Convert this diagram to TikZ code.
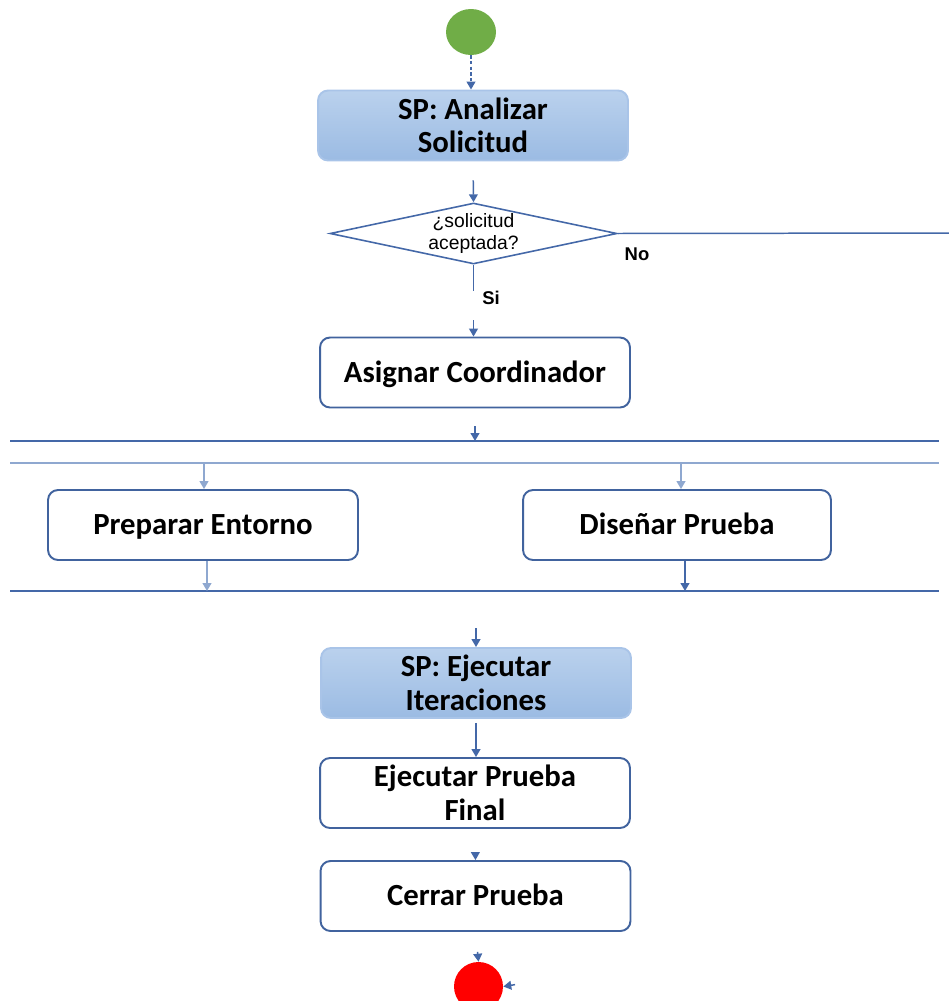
\documentclass[tikz,border=0pt]{standalone}
\usepackage{fontspec}
\setmainfont{Carlito}
\newfontfamily\arialfont{Liberation Sans}
\usetikzlibrary{arrows.meta,shapes.geometric}
\definecolor{lineblue}{HTML}{4468A8}
\definecolor{boxborder}{HTML}{41639E}
\definecolor{fillTop}{HTML}{BAD1ED}
\definecolor{fillBot}{HTML}{9BBBE3}
\definecolor{spborder}{HTML}{A9C4E8}
\definecolor{barlight}{HTML}{8FA8D0}
\definecolor{startgreen}{HTML}{70AD47}
\tikzset{
  actbox/.style={draw=boxborder, line width=1.1pt, rounded corners=0.2cm, fill=white,
    minimum width=6.2cm, minimum height=1.4cm, align=center, inner sep=2pt,
    font=\fontsize{17.5}{19}\selectfont\bfseries},
  onebox/.style={actbox, text height=11pt, text depth=0pt},
  spbox/.style={actbox, draw=spborder, top color=fillTop, bottom color=fillBot},
  conn/.style={draw=lineblue, line width=0.85pt, -{Triangle[width=5pt,length=4.5pt]}},
  barline/.style={draw=lineblue, line width=1.1pt},
  lbl/.style={font=\arialfont\fontsize{10.5}{12}\selectfont\bfseries},
}
\begin{document}
\begin{tikzpicture}[x=0.02cm,y=-0.02cm]
\useasboundingbox (0,0) rectangle (949,1001);

% start / end
\node[ellipse, fill=startgreen, minimum width=1.0cm, minimum height=0.92cm, inner sep=0] (start) at (471,32) {};
\node[circle, fill=red, minimum size=0.98cm, inner sep=0] (end) at (478.5,986.5) {};

% activities
\node[spbox] (ana) at (473,125.5) {SP: Analizar\\Solicitud};
\node[diamond, draw=lineblue, line width=0.9pt, aspect=4.7, minimum width=5.74cm, minimum height=1.22cm,
      inner sep=0, align=center, font=\arialfont\fontsize{11}{13}\selectfont] (dec) at (473.5,233.5) {¿solicitud\\aceptada?};
\node[onebox] (asg) at (475,372.5) {Asignar Coordinador};
\node[onebox] (prep) at (203,525) {Preparar Entorno};
\node[onebox, minimum width=6.16cm] (dis) at (677,525) {Diseñar Prueba};
\node[spbox] (iter) at (476,683) {SP: Ejecutar\\Iteraciones};
\node[actbox] (fin) at (475,793) {Ejecutar Prueba\\Final};
\node[onebox] (cer) at (475.5,896) {Cerrar Prueba};

% fork / join bars
\coordinate (b1l) at (10,441); \coordinate (b1r) at (939,441);
\coordinate (b2l) at (10,463); \coordinate (b2r) at (939,463);
\coordinate (b3l) at (10,591); \coordinate (b3r) at (939,591);
\draw[barline] (b1l) -- (b1r);
\draw[barline, draw=barlight] (b2l) -- (b2r);
\draw[barline] (b3l) -- (b3r);
\coordinate (f1) at (475,441);
\coordinate (f2a) at (204,463);
\coordinate (f2b) at (681,463);
\coordinate (j1) at (207,591);
\coordinate (j2) at (685,591);
\coordinate (noend) at (949,233);
\coordinate (noin) at (519,984);

% connectors
\draw[conn, dashed, dash pattern=on 2pt off 1.2pt] (start) -- (ana.north -| start);
\draw[conn, shorten <=19*0.02cm] (ana.south) -- (dec.north);
\draw[conn, dash pattern=on 14.7pt off 17pt on 20pt] (dec.south) -- (asg.north -| dec.south);
\draw[draw=lineblue, line width=0.85pt] (dec.east) -- (noend);
\draw[conn, shorten <=18*0.02cm] (asg.south) -- (f1);
\draw[conn, draw=barlight] (f2a) -- (prep.north -| f2a);
\draw[conn, draw=barlight] (f2b) -- (dis.north -| f2b);
\draw[conn, draw=barlight] (prep.south -| j1) -- (j1);
\draw[conn] (dis.south -| j2) -- (j2);
\draw[conn, shorten <=37*0.02cm] (j1 -| iter.north) -- (iter.north);
\draw[conn, shorten <=4*0.02cm] (iter.south) -- (iter.south |- fin.north);
\draw[conn, shorten <=24*0.02cm] (fin.south) -- (cer.north);
\draw[conn, shorten <=20*0.02cm] (cer.south) -- (end.north);
\draw[conn, shorten <=4*0.02cm] (noin) -- (end.east);

% labels
\node[lbl] (no) at (637,254) {No};
\node[lbl] (si) at (491,298) {Si};
\end{tikzpicture}
\end{document}
